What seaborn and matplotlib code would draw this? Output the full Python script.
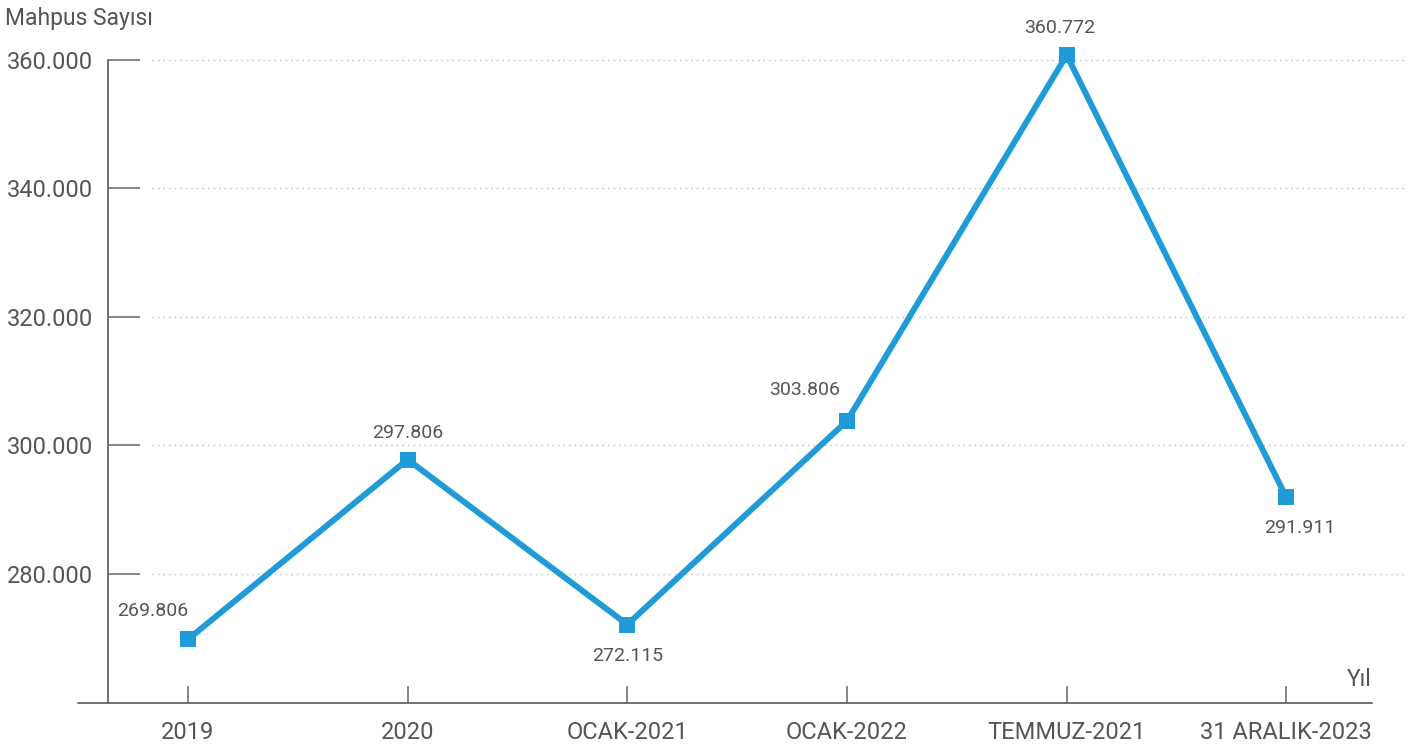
import numpy as np
import pandas as pd
import matplotlib
matplotlib.use("Agg")
import matplotlib.pyplot as plt
import seaborn as sns
from matplotlib.ticker import FuncFormatter

# Veriler
donemler = ["2019", "2020", "OCAK-2021", "OCAK-2022", "TEMMUZ-2021", "31 ARALIK-2023"]
mahpus = [269806, 297806, 272115, 303806, 360772, 291911]
y_ticks = [280000, 300000, 320000, 340000, 360000]

# etiket kaymalari (piksel)
etiket_kayma = [(-35, 28), (0, 27), (0, -31), (-42, 31), (-7, 27), (13, -31)]

df = pd.DataFrame({"x": np.arange(len(donemler)), "Mahpus": mahpus})

sns.set_theme(style="white")
plt.rcParams["font.family"] = ["Roboto", "DejaVu Sans"]

renk = "#1f9bd7"
gri = "#555555"

fig = plt.figure(figsize=(14.08, 7.49), dpi=100)
ax = fig.add_axes([108 / 1408, 1 - 703 / 749, (1372 - 108) / 1408, (703 - 60) / 749])

sns.lineplot(data=df, x="x", y="Mahpus", ax=ax, color=renk, linewidth=4.3,
             marker="s", markersize=12, markeredgewidth=0, clip_on=False, zorder=5)

ax.set_xlim(-0.364, 5.39)
ax.set_ylim(259900, 360000)

# noktali yatay cizgiler
for t in y_ticks:
    ax.plot([-0.164, 5.54], [t, t], linestyle=(0, (1, 3)), color="#bbbbbb",
            linewidth=1, clip_on=False, zorder=1)

for s in ax.spines.values():
    s.set_visible(False)
ax.plot([-0.364, -0.364], [259900, 360000], color="#666666", lw=1.3, clip_on=False)
ax.plot([-0.5, 5.39], [259900, 259900], color="#666666", lw=1.3, clip_on=False)

ax.set_xticks(df["x"])
ax.set_xticklabels(donemler)
ax.set_yticks(y_ticks)
ax.yaxis.set_major_formatter(FuncFormatter(lambda v, p: f"{int(v):,}".replace(",", ".")))
ax.tick_params(axis="x", direction="in", length=12, width=1.1, color="#666666",
               labelsize=17, labelcolor=gri, pad=13, bottom=True)
ax.tick_params(axis="y", direction="in", length=23, width=1.1, color="#666666",
               labelsize=17, labelcolor=gri, pad=11, left=True)
ax.set_xlabel("")
ax.set_ylabel("")
ax.grid(False)

for i, v in enumerate(mahpus):
    dx, dy = etiket_kayma[i]
    ax.annotate(f"{v:,}".replace(",", "."), (i, v), xytext=(dx * 0.72, dy * 0.72),
                textcoords="offset points", ha="center", va="center",
                fontsize=14, color=gri, annotation_clip=False)

fig.text(5 / 1408, 1 - 18 / 749, "Mahpus Sayısı", ha="left", va="center",
         fontsize=16.5, color=gri)
fig.text(1372 / 1408, 1 - 680 / 749, "Yıl", ha="right", va="center",
         fontsize=16.5, color=gri)

fig.savefig("out.png", dpi=100)
